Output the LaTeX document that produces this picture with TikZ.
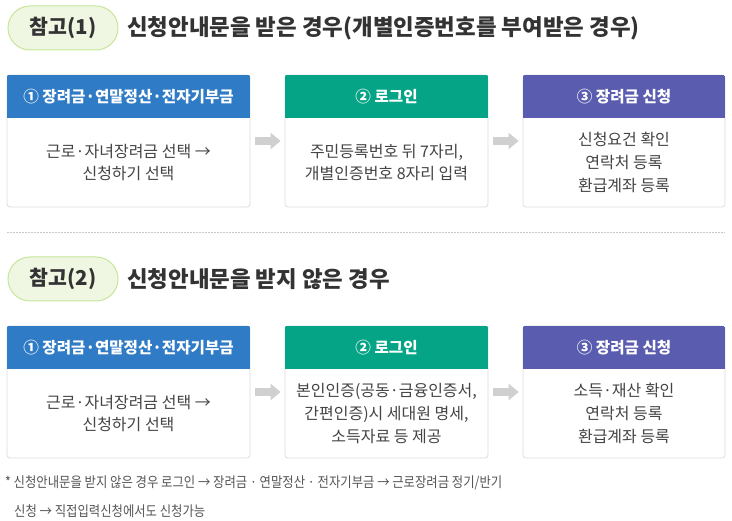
\documentclass[tikz,border=0pt]{standalone}
\usepackage{fontspec}
\setmainfont{Noto Sans CJK KR}
\usetikzlibrary{arrows.meta}
\definecolor{hblue}{HTML}{2F7BC6}
\definecolor{hgreen}{HTML}{05A486}
\definecolor{hpurple}{HTML}{5A5DAF}
\definecolor{pillfill}{HTML}{EFF7E3}
\definecolor{pillline}{HTML}{C6E69B}
\definecolor{txt}{HTML}{333333}
\definecolor{bodytxt}{HTML}{444444}
\definecolor{notetxt}{HTML}{555555}
\definecolor{boxline}{HTML}{DCDCDC}
\definecolor{arrowgray}{HTML}{D0D0D0}
\definecolor{sepgray}{HTML}{C8C8C8}
\tikzset{
  pill/.style={draw=pillline, fill=pillfill, line width=1pt, rounded corners=22pt,
    minimum width=110pt, minimum height=44pt, inner sep=0pt,
    font=\fontsize{20.5}{24}\selectfont\bfseries, text=txt},
  titletext/.style={anchor=west, inner sep=0pt, font=\fontsize{22.4}{26}\selectfont\bfseries, text=txt},
  card/.style={draw=boxline, fill=white, rounded corners=3pt, minimum height=132pt,
    inner sep=0pt, line width=0.8pt},
  hdrtext/.style={text=white, inner sep=0pt, font=\fontsize{15.6}{18}\selectfont\bfseries},
  bodytext/.style={align=center, inner sep=0pt, font=\fontsize{16}{22.7}\selectfont, text=bodytxt},
  flow/.style={line width=8pt, draw=arrowgray, -{Triangle[length=10pt,width=16pt]}},
  sepline/.style={draw=sepgray, line width=1.5pt, dash pattern=on 1.5pt off 1.5pt},
  notetext/.style={anchor=west, inner sep=0pt, font=\fontsize{14.2}{16}\selectfont\addfontfeatures{FakeStretch=0.87}, text=notetxt}
}
\newcommand{\hdrfill}[2]{%
  \begin{scope}
    \clip[rounded corners=3pt] (#1.north west) rectangle (#1.south east);
    \fill[#2] (#1.north west) rectangle ([yshift=-43pt]#1.north east);
  \end{scope}}
\begin{document}
\begin{tikzpicture}[x=1pt,y=-1pt]
\useasboundingbox (0,0) rectangle (732,521);

% ---------- Section 1 ----------
\node[pill] (p1) at (63,28) {참고(1)};
\node[titletext] (t1) at (127,28) {신청안내문을 받은 경우(개별인증번호를 부여받은 경우)};

\node[card, minimum width=243pt] (a1) at (128.5,141) {};
\hdrfill{a1}{hblue}
\node[hdrtext] (a1h) at ([yshift=-21.5pt]a1.north) {① 장려금·연말정산·전자기부금};
\node[bodytext] (a1t) at ([yshift=-21.5pt]a1.center) {근로·자녀장려금 선택 →\\신청하기 선택};

\node[card, minimum width=203pt] (a2) at (386.5,141) {};
\hdrfill{a2}{hgreen}
\node[hdrtext] (a2h) at ([yshift=-21.5pt]a2.north) {② 로그인};
\node[bodytext] (a2t) at ([yshift=-21.5pt]a2.center) {주민등록번호 뒤 7자리,\\개별인증번호 8자리 입력};

\node[card, minimum width=202pt] (a3) at (624,141) {};
\hdrfill{a3}{hpurple}
\node[hdrtext] (a3h) at ([yshift=-21.5pt]a3.north) {③ 장려금 신청};
\node[bodytext] (a3t) at ([yshift=-21.5pt]a3.center) {신청요건 확인\\연락처 등록\\환급계좌 등록};

\draw[flow] ([xshift=5pt]a1.east) -- ([xshift=-4pt]a2.west);
\draw[flow] ([xshift=5pt]a2.east) -- ([xshift=-4pt]a3.west);

% separator
\coordinate (sL) at (7,232.5);
\coordinate (sR) at (725,232.5);
\draw[sepline] (sL) -- (sR);

% ---------- Section 2 ----------
\node[pill] (p2) at (63,279) {참고(2)};
\node[titletext] (t2) at (127,279) {신청안내문을 받지 않은 경우};

\node[card, minimum width=243pt] (b1) at (128.5,392) {};
\hdrfill{b1}{hblue}
\node[hdrtext] (b1h) at ([yshift=-21.5pt]b1.north) {① 장려금·연말정산·전자기부금};
\node[bodytext] (b1t) at ([yshift=-21.5pt]b1.center) {근로·자녀장려금 선택 →\\신청하기 선택};

\node[card, minimum width=203pt] (b2) at (386.5,392) {};
\hdrfill{b2}{hgreen}
\node[hdrtext] (b2h) at ([yshift=-21.5pt]b2.north) {② 로그인};
\node[bodytext] (b2t) at ([yshift=-21.5pt]b2.center) {본인인증(공동·금융인증서,\\간편인증)시 세대원 명세,\\소득자료 등 제공};

\node[card, minimum width=202pt] (b3) at (624,392) {};
\hdrfill{b3}{hpurple}
\node[hdrtext] (b3h) at ([yshift=-21.5pt]b3.north) {③ 장려금 신청};
\node[bodytext] (b3t) at ([yshift=-21.5pt]b3.center) {소득·재산 확인\\연락처 등록\\환급계좌 등록};

\draw[flow] ([xshift=5pt]b1.east) -- ([xshift=-4pt]b2.west);
\draw[flow] ([xshift=5pt]b2.east) -- ([xshift=-4pt]b3.west);

% footnote
\node[notetext] (n1) at (5,483) {* 신청안내문을 받지 않은 경우 로그인 → 장려금 · 연말정산 · 전자기부금 → 근로장려금 정기/반기};
\node[notetext] (n2) at (14,511) {신청 → 직접입력신청에서도 신청가능};
\end{tikzpicture}
\end{document}
